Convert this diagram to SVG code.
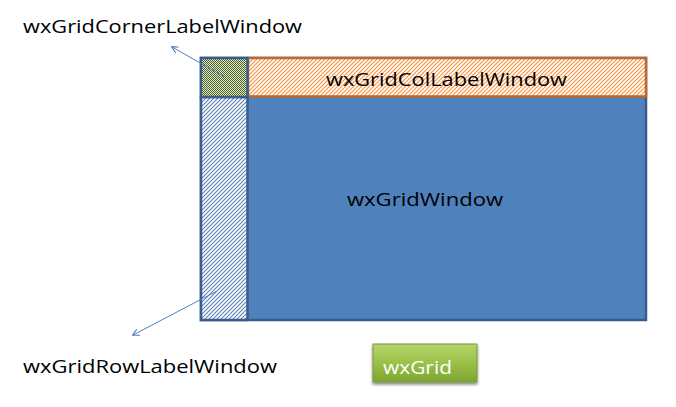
<svg xmlns="http://www.w3.org/2000/svg" width="676" height="407" viewBox="0 0 676 407">
<defs>
<pattern id="hOrange" patternUnits="userSpaceOnUse" width="4" height="4">
<rect width="4" height="4" fill="#ffffff"/>
<path d="M-1,1 l2,-2 M0,4 l4,-4 M3,5 l2,-2" stroke="#f79646" stroke-width="1.2"/>
</pattern>
<pattern id="hBlue" patternUnits="userSpaceOnUse" width="4" height="4">
<rect width="4" height="4" fill="#ffffff"/>
<path d="M-1,1 l2,-2 M0,4 l4,-4 M3,5 l2,-2" stroke="#5a7fb5" stroke-width="1.1"/>
</pattern>
<pattern id="hCheck" patternUnits="userSpaceOnUse" width="2" height="2">
<rect width="2" height="2" fill="#dfe8c8"/>
<rect width="1" height="1" fill="#4f6228"/>
<rect x="1" y="1" width="1" height="1" fill="#4f6228"/>
</pattern>
<linearGradient id="gBtn" x1="0" y1="0" x2="0" y2="1">
<stop offset="0" stop-color="#b5d36c"/>
<stop offset="0.5" stop-color="#9bc147"/>
<stop offset="1" stop-color="#7ea332"/>
</linearGradient>
<marker id="arr" viewBox="0 0 10 10" refX="9" refY="5" markerWidth="7" markerHeight="7" orient="auto-start-reverse" markerUnits="userSpaceOnUse">
<path d="M0,0 L10,5 L0,10" fill="none" stroke="#4f81bd" stroke-width="1.5"/>
</marker>
<filter id="sh" x="-10%" y="-10%" width="130%" height="140%">
<feGaussianBlur in="SourceAlpha" stdDeviation="1.5"/>
<feOffset dx="0" dy="2" result="b"/>
<feComponentTransfer><feFuncA type="linear" slope="0.5"/></feComponentTransfer>
<feMerge><feMergeNode/><feMergeNode in="SourceGraphic"/></feMerge>
</filter>
</defs>
<style>
text{font-family:"Open Sans","Liberation Sans",Arial,sans-serif;font-size:18px;fill:#000}
.conn{stroke:#4f81bd;stroke-width:1;fill:none}
</style>
<rect width="676" height="407" fill="#ffffff"/>
<g id="gridWindow">
<rect x="201" y="58" width="445" height="262" fill="#4f81bd" stroke="#385d8a" stroke-width="2.5"/>
<text x="347" y="206" textLength="156" lengthAdjust="spacingAndGlyphs">wxGridWindow</text>
</g>
<g id="colLabelWindow">
<rect x="248" y="58" width="398" height="38.5" fill="url(#hOrange)" stroke="#b9692d" stroke-width="2.5"/>
<text x="326" y="86" textLength="241" lengthAdjust="spacingAndGlyphs">wxGridColLabelWindow</text>
</g>
<g id="rowLabelWindow">
<rect x="201" y="97" width="46.5" height="223" fill="url(#hBlue)" stroke="#385d8a" stroke-width="2.5"/>
</g>
<g id="cornerLabelWindow">
<rect x="201" y="58" width="46.5" height="39" fill="url(#hCheck)" stroke="#385d8a" stroke-width="2.5"/>
</g>
<g id="cornerLabel">
<text x="23" y="33" textLength="279" lengthAdjust="spacingAndGlyphs">wxGridCornerLabelWindow</text>
</g>
<g id="rowLabel">
<text x="23" y="373" textLength="254" lengthAdjust="spacingAndGlyphs">wxGridRowLabelWindow</text>
</g>
<g id="wxGrid">
<rect x="373" y="344" width="104" height="38" fill="url(#gBtn)" stroke="#7a9a3a" stroke-width="1" filter="url(#sh)"/>
<text x="383" y="374" textLength="69" lengthAdjust="spacingAndGlyphs" style="fill:#ffffff">wxGrid</text>
</g>
<g id="connectors">
<path class="conn" d="M225,77 L172,47" marker-end="url(#arr)"/>
<path class="conn" d="M217,291 L133,335" marker-end="url(#arr)"/>
</g>
</svg>
